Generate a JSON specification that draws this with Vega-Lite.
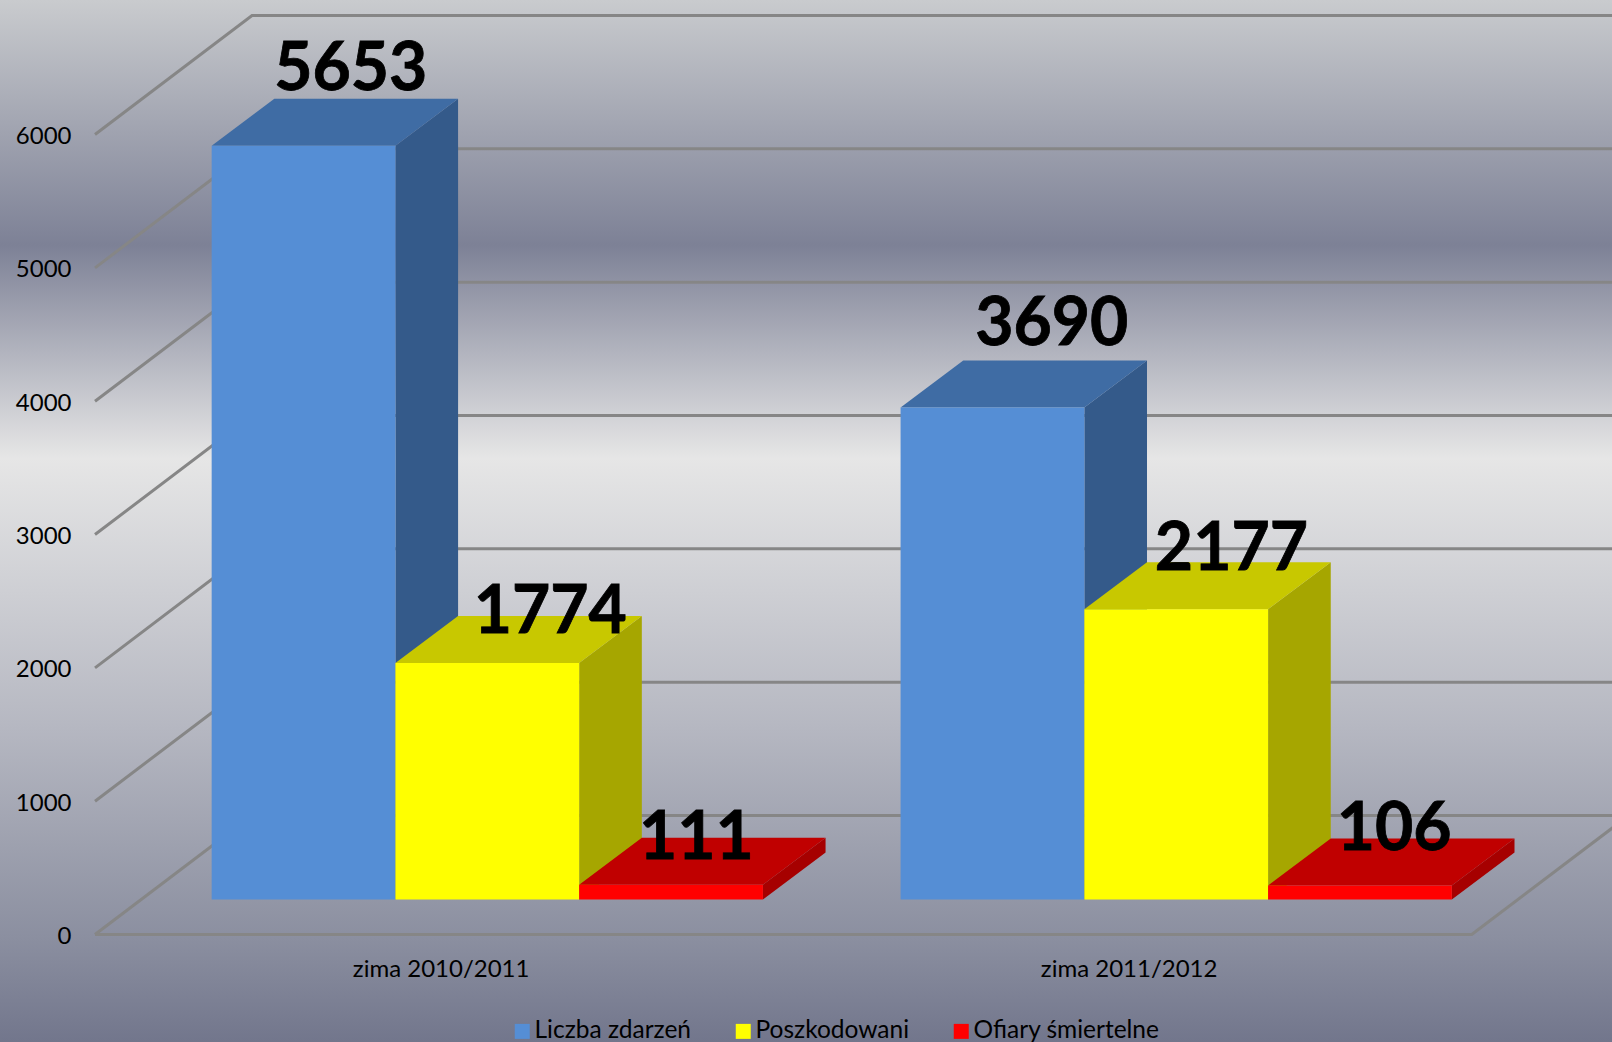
{
"$schema":"https://vega.github.io/schema/vega-lite/v6.json",
"width":1612,"height":1042,"autosize":"none","padding":0,
"background":"#8c8fa0",
"config":{"view":{"stroke":null,"fill":{"gradient":"linear","x1":0,"y1":0,"x2":0,"y2":1,"stops":[{"offset":0,"color":"#c9cbce"},{"offset":0.235,"color":"#7d8196"},{"offset":0.44,"color":"#e6e6e6"},{"offset":0.7,"color":"#b5b7c1"},{"offset":0.9,"color":"#8b8fa0"},{"offset":1,"color":"#72768c"}]}},"text":{"font":"Lato"},
"axisY":{"offset":-95,"labelPadding":24,"labelOffset":2,"domain":false,"ticks":false,"grid":false,"title":null,"labelFont":"Lato","labelFontSize":24,"labelColor":"#000000"}},
"datasets":{
"bars":[
{"winter":"zima 2010/2011","series":"Liczba zdarzeń","value":5653},
{"winter":"zima 2010/2011","series":"Poszkodowani","value":1774},
{"winter":"zima 2010/2011","series":"Ofiary śmiertelne","value":111},
{"winter":"zima 2011/2012","series":"Liczba zdarzeń","value":3690},
{"winter":"zima 2011/2012","series":"Poszkodowani","value":2177},
{"winter":"zima 2011/2012","series":"Ofiary śmiertelne","value":106}],
"grid":[{"tick":0},{"tick":1000},{"tick":2000},{"tick":3000},{"tick":4000},{"tick":5000},{"tick":6000}]},
"data":{"name":"bars"},
"transform":[
{"calculate":"datum.winter==='zima 2010/2011'?0:1","as":"g"},
{"calculate":"indexof(['Liczba zdarzeń','Poszkodowani','Ofiary śmiertelne'],datum.series)","as":"s"},
{"calculate":"0.633+3.738*datum.g+0.997*datum.s","as":"x0"},
{"calculate":"datum.x0+0.997","as":"x1"},
{"calculate":"262.5","as":"base"},
{"calculate":"datum.base+datum.value","as":"tp"}
],
"layer":[
{"data":{"name":"grid"},
 "transform":[{"calculate":"[0,1,2]","as":"k"},{"flatten":["k"]},
  {"calculate":"datum.k===0?0:(datum.k===1?0.852:8.5)","as":"gx"},
  {"calculate":"datum.k===0?datum.tick:datum.tick+892.5","as":"gy"}],
 "mark":{"type":"line","stroke":"#868686","strokeWidth":3,"clip":true},
 "encoding":{
  "x":{"field":"gx","type":"quantitative","scale":{"domain":[-0.5155,8.231]},"axis":null},
  "y":{"field":"gy","type":"quantitative","scale":{"domain":[-806,7009]},"axis":{"values":[0,1000,2000,3000,4000,5000,6000],"format":"d"}},
  "order":{"field":"k","type":"quantitative"},
  "detail":{"field":"tick","type":"nominal"}}},
{"data":{"name":"grid"},
 "transform":[{"filter":"datum.tick===0"},{"calculate":"[0,1,2]","as":"k"},{"flatten":["k"]},
  {"calculate":"datum.k===0?0:(datum.k===1?7.47:8.322)","as":"gx"},
  {"calculate":"datum.k===2?892.5:0","as":"gy"}],
 "mark":{"type":"line","stroke":"#868686","strokeWidth":3,"clip":true},
 "encoding":{
  "x":{"field":"gx","type":"quantitative","scale":{"domain":[-0.5155,8.231]},"axis":null},
  "y":{"field":"gy","type":"quantitative","scale":{"domain":[-806,7009]},"axis":{"values":[0,1000,2000,3000,4000,5000,6000],"format":"d"}},
  "order":{"field":"k","type":"quantitative"}}},
{"transform":[{"calculate":"[0,1]","as":"t"},{"flatten":["t"]},
  {"calculate":"datum.x1+0.34*datum.t","as":"sx"},
  {"calculate":"datum.base+352.5*datum.t","as":"sy"},
  {"calculate":"datum.sy+datum.value","as":"sy2"}],
 "mark":{"type":"area","orient":"vertical"},
 "encoding":{
  "x":{"field":"sx","type":"quantitative","scale":{"domain":[-0.5155,8.231]},"axis":null},
  "y":{"field":"sy","type":"quantitative","scale":{"domain":[-806,7009]},"axis":{"values":[0,1000,2000,3000,4000,5000,6000],"format":"d"}},
  "y2":{"field":"sy2"},
  "detail":{"field":"winter","type":"nominal"},
  "color":{"field":"series","type":"nominal","legend":null,"scale":{"domain":["Liczba zdarzeń","Poszkodowani","Ofiary śmiertelne"],"range":["#345a8a","#a6a600","#a60000"]}}}},
{"transform":[{"calculate":"[0,1]","as":"t"},{"flatten":["t"]},
  {"calculate":"datum.x0+0.34*datum.t","as":"tx"},
  {"calculate":"datum.x1+0.34*datum.t","as":"tx2"},
  {"calculate":"datum.tp+352.5*datum.t","as":"ty"}],
 "mark":{"type":"area","orient":"horizontal"},
 "encoding":{
  "y":{"field":"ty","type":"quantitative","scale":{"domain":[-806,7009]},"axis":{"values":[0,1000,2000,3000,4000,5000,6000],"format":"d"}},
  "x":{"field":"tx","type":"quantitative","scale":{"domain":[-0.5155,8.231]},"axis":null},
  "x2":{"field":"tx2"},
  "detail":{"field":"winter","type":"nominal"},
  "color":{"field":"series","type":"nominal","legend":null,"scale":{"domain":["Liczba zdarzeń","Poszkodowani","Ofiary śmiertelne"],"range":["#3f6ca4","#c8c800","#c00000"]}}}},
{"mark":{"type":"rect"},
 "encoding":{
  "x":{"field":"x0","type":"quantitative","scale":{"domain":[-0.5155,8.231]},"axis":null},
  "x2":{"field":"x1"},
  "y":{"field":"base","type":"quantitative","scale":{"domain":[-806,7009]},"axis":{"values":[0,1000,2000,3000,4000,5000,6000],"format":"d"}},
  "y2":{"field":"tp"},
  "color":{"field":"series","type":"nominal","scale":{"domain":["Liczba zdarzeń","Poszkodowani","Ofiary śmiertelne"],"range":["#558ed5","#ffff00","#ff0000"]},
   "legend":{"orient":"none","legendX":510,"legendY":1019,"direction":"horizontal","columns":3,"title":null,"symbolType":"square","symbolSize":225,"symbolStrokeWidth":0,"labelFont":"Lato","labelFontSize":24.5,"labelColor":"#000000","columnPadding":39,"labelOffset":0,"labelLimit":400}}}},
{"transform":[{"filter":"datum.s===0"},
  {"calculate":"1.878+3.733*datum.g","as":"cx"},{"calculate":"-269","as":"cy"}],
 "mark":{"type":"text","font":"Lato","fontSize":24,"fill":"#000000","baseline":"middle"},
 "encoding":{
  "x":{"field":"cx","type":"quantitative","scale":{"domain":[-0.5155,8.231]},"axis":null},
  "y":{"field":"cy","type":"quantitative","scale":{"domain":[-806,7009]},"axis":{"values":[0,1000,2000,3000,4000,5000,6000],"format":"d"}},
  "text":{"field":"winter"}}},
{"transform":[
  {"calculate":"{'5653':[0.255,565],'1774':[0.34,372],'111':[0.136,344],'3690':[0.32,622],'2177':[0.298,442],'106':[0.184,412]}[''+datum.value]","as":"nudge"},
  {"calculate":"datum.x0+0.5+datum.nudge[0]","as":"lx"},
  {"calculate":"datum.tp+datum.nudge[1]","as":"ly"}],
 "mark":{"type":"text","font":"Lato","fontWeight":"bold","fontSize":66,"fill":"#000000","stroke":"#000000","strokeWidth":0.8,"baseline":"middle"},
 "encoding":{
  "x":{"field":"lx","type":"quantitative","scale":{"domain":[-0.5155,8.231]},"axis":null},
  "y":{"field":"ly","type":"quantitative","scale":{"domain":[-806,7009]},"axis":{"values":[0,1000,2000,3000,4000,5000,6000],"format":"d"}},
  "text":{"field":"value","type":"quantitative","format":"d"}}}
],
"resolve":{"scale":{"color":"independent"}}
}
